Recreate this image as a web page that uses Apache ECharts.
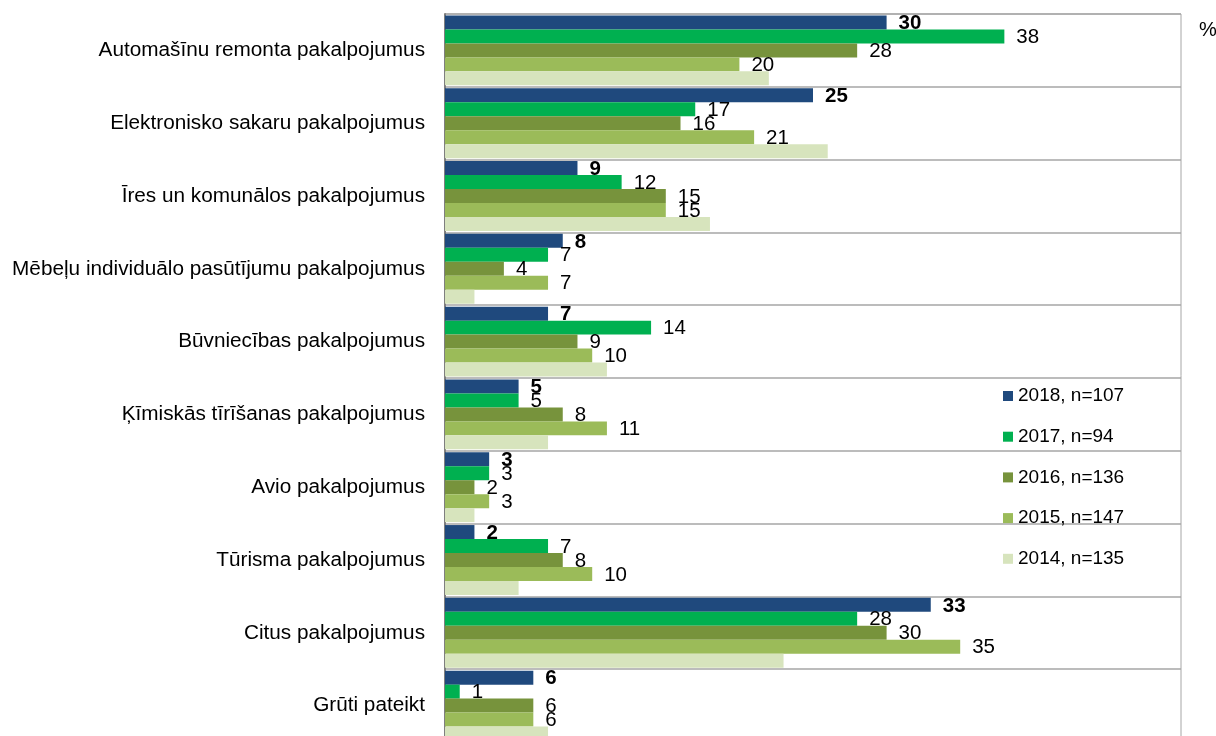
<!DOCTYPE html>
<html>
<head>
<meta charset="utf-8">
<script src="https://cdn.jsdelivr.net/npm/echarts@6/dist/echarts.min.js"></script>
<style>
html,body{margin:0;padding:0;background:#fff;}
#chart{width:1216px;height:736px;}
</style>
</head>
<body>
<div id="chart"></div>
<script>
var categories = [
  'Automašīnu remonta pakalpojumus',
  'Elektronisko sakaru pakalpojumus',
  'Īres un komunālos pakalpojumus',
  'Mēbeļu individuālo pasūtījumu pakalpojumus',
  'Būvniecības pakalpojumus',
  'Ķīmiskās tīrīšanas pakalpojumus',
  'Avio pakalpojumus',
  'Tūrisma pakalpojumus',
  'Citus pakalpojumus',
  'Grūti pateikt'
];
var seriesNames = ['2018, n=107', '2017, n=94', '2016, n=136', '2015, n=147', '2014, n=135'];
var v2018 = [30, 25, 9, 8, 7, 5, 3, 2, 33, 6];
var v2017 = [38, 17, 12, 7, 14, 5, 3, 7, 28, 1];
var v2016 = [28, 16, 15, 4, 9, 8, 2, 8, 30, 6];
var v2015 = [20, 21, 15, 7, 10, 11, 3, 10, 35, 6];
var v2014 = [22, 26, 18, 2, 11, 7, 2, 5, 23, 7];
var colors = ['#1F497D', '#00B050', '#77933C', '#9BBB59', '#D7E4BD'];

var FONT = '"Liberation Sans", Arial, sans-serif';
function mkSeries(i, data, labelShow, bold) {
  return {
    name: seriesNames[i],
    type: 'bar',
    data: data,
    barGap: '0%',
    barCategoryGap: '4%',
    itemStyle: { color: colors[i] },
    label: {
      show: labelShow,
      position: 'right',
      distance: 12,
      offset: [0, 1],
      color: '#000',
      fontSize: 20.5,
      fontFamily: FONT,
      fontWeight: bold ? 'bold' : 'normal'
    },
    emphasis: { disabled: true },
    animation: false
  };
}

var chart = echarts.init(document.getElementById('chart'));
chart.setOption({
  animation: false,
  textStyle: { fontFamily: FONT },
  grid: {
    left: 445, right: 35, top: 14, bottom: -6,
    show: true, borderColor: '#a6a6a6', borderWidth: 1,
    containLabel: false, outerBoundsMode: 'none'
  },
  legend: {
    orient: 'vertical',
    left: 1003,
    top: 386,
    padding: 0,
    itemWidth: 10,
    itemHeight: 10,
    itemGap: 20.7,
    icon: 'rect',
    textStyle: { fontSize: 19, color: '#000', fontFamily: FONT, lineHeight: 20 },
    data: seriesNames
  },
  xAxis: {
    type: 'value', min: 0, max: 50, show: false
  },
  yAxis: {
    type: 'category',
    data: categories,
    inverse: true,
    axisTick: { show: false },
    axisLine: { show: true, lineStyle: { color: '#7f7f7f', width: 2 } },
    axisLabel: { fontSize: 20.75, color: '#000', margin: 20, fontFamily: FONT },
    splitLine: { show: true, lineStyle: { color: '#a6a6a6', width: 1.5 } }
  },
  graphic: [{
    type: 'text', left: 1199, top: 20,
    style: { text: '%', fill: '#000', font: '20px "Liberation Sans", Arial, sans-serif' }
  }],
  series: [
    mkSeries(0, v2018, true, true),
    mkSeries(1, v2017, true, false),
    mkSeries(2, v2016, true, false),
    mkSeries(3, v2015, true, false),
    mkSeries(4, v2014, false, false)
  ]
});
</script>
</body>
</html>
